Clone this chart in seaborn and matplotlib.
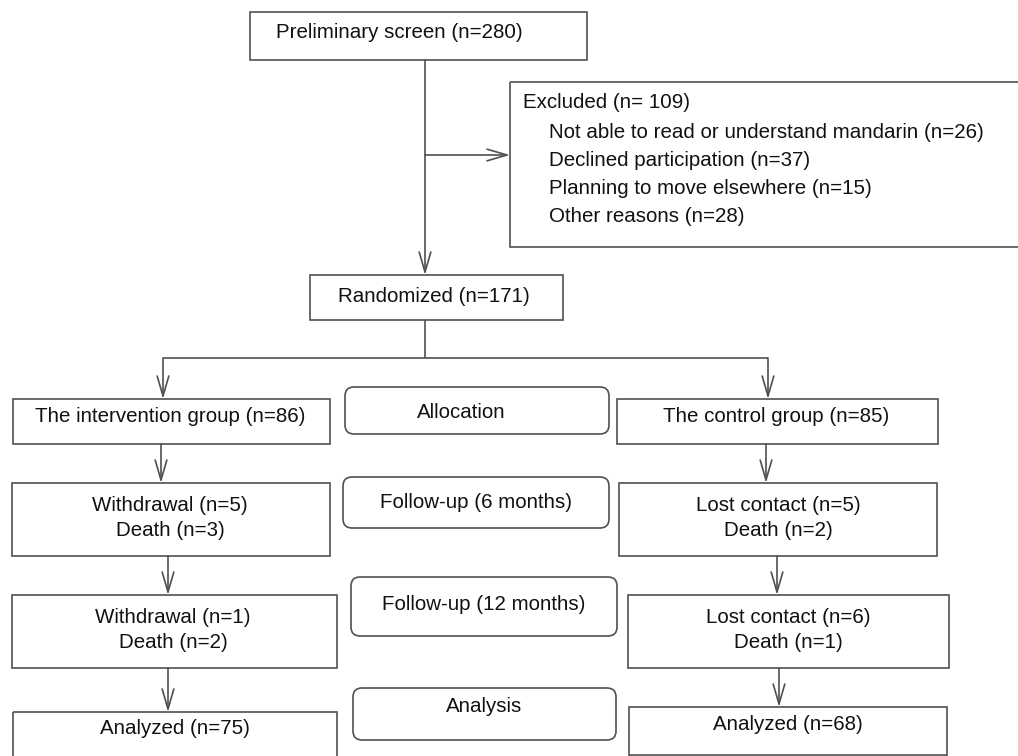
import matplotlib
matplotlib.use("Agg")
import matplotlib.pyplot as plt
import seaborn as sns
from matplotlib.patches import Rectangle, FancyBboxPatch

sns.set_theme(style="white")
plt.rcParams['font.family'] = ['Liberation Sans', 'DejaVu Sans']

# box labels
top_label = "Preliminary screen (n=280)"
excluded_title = "Excluded (n= 109)"
excluded_items = [
    "Not able to read or understand mandarin (n=26)",
    "Declined participation (n=37)",
    "Planning to move elsewhere (n=15)",
    "Other reasons (n=28)",
]
random_label = "Randomized (n=171)"
left_labels = [
    "The intervention group (n=86)",
    "Withdrawal (n=5)\nDeath (n=3)",
    "Withdrawal (n=1)\nDeath (n=2)",
    "Analyzed (n=75)",
]
stage_labels = ["Allocation", "Follow-up (6 months)", "Follow-up (12 months)", "Analysis"]
right_labels = [
    "The control group (n=85)",
    "Lost contact (n=5)\nDeath (n=2)",
    "Lost contact (n=6)\nDeath (n=1)",
    "Analyzed (n=68)",
]

# layout in pixels (x0, x1, y0, y1), y downward
left_boxes = [(13, 330, 399, 444), (12, 330, 483, 556), (12, 337, 595, 668), (13, 337, 712, 775)]
left_text = [(170, 417), (170, 518), (173, 630), (175, 728)]
stage_boxes = [(345, 609, 387, 434), (343, 609, 477, 528), (351, 617, 577, 636), (353, 616, 688, 740)]
stage_text = [(461, 412), (476, 503), (484, 605), (484, 706)]
right_boxes = [(617, 938, 399, 444), (619, 937, 483, 556), (628, 949, 595, 668), (629, 947, 707, 755)]
right_text = [(776, 417), (778, 518), (788, 630), (788, 724)]
left_arrow_x = [163, 161, 168, 168]
right_arrow_x = [768, 766, 777, 779]

EC = "#505050"
LW = 1.2
FS = 14.8

fig = plt.figure(figsize=(10.18, 7.56), dpi=100)
ax = fig.add_axes([0, 0, 1, 1])
ax.set_xlim(0, 1018)
ax.set_ylim(756, 0)
ax.axis("off")


def rect(b):
    x0, x1, y0, y1 = b
    ax.add_patch(Rectangle((x0, y0), x1 - x0, y1 - y0, fill=False, ec=EC, lw=LW))


def rrect(b):
    x0, x1, y0, y1 = b
    ax.add_patch(FancyBboxPatch((x0, y0), x1 - x0, y1 - y0,
                                boxstyle="round,pad=0,rounding_size=9",
                                fill=False, ec=EC, lw=LW))


def arrow(x0, y0, x1, y1):
    ax.annotate("", xy=(x1, y1), xytext=(x0, y0),
                arrowprops=dict(arrowstyle="->,head_length=1.2,head_width=0.35",
                                color=EC, lw=LW, shrinkA=0, shrinkB=0))


def line(xs, ys):
    ax.plot(xs, ys, color=EC, lw=LW, solid_capstyle="butt")


txt = dict(fontsize=FS, color="#111111", linespacing=1.42)

# top part
rect((250, 587, 12, 60))
ax.text(276, 33, top_label, ha="left", va="center", **txt)
arrow(425, 60, 425, 275)
arrow(425, 155, 510, 155)
rect((510, 1040, 82, 247))
ax.text(523, 102, excluded_title, ha="left", va="center", **txt)
for i, item in enumerate(excluded_items):
    ax.text(549, 132 + i * 28, item, ha="left", va="center", **txt)

rect((310, 563, 275, 320))
ax.text(434, 297, random_label, ha="center", va="center", **txt)
line([425, 425], [320, 358])
line([163, 768], [358, 358])

# columns
prev_left, prev_right = 358, 358
for i in range(4):
    rect(left_boxes[i])
    rect(right_boxes[i])
    rrect(stage_boxes[i])
    arrow(left_arrow_x[i], prev_left, left_arrow_x[i], left_boxes[i][2])
    arrow(right_arrow_x[i], prev_right, right_arrow_x[i], right_boxes[i][2])
    prev_left, prev_right = left_boxes[i][3], right_boxes[i][3]
    ax.text(*left_text[i], left_labels[i], ha="center", va="center", **txt)
    ax.text(*right_text[i], right_labels[i], ha="center", va="center", **txt)
    ax.text(*stage_text[i], stage_labels[i], ha="center", va="center", **txt)

fig.savefig("out.png", dpi=100)
